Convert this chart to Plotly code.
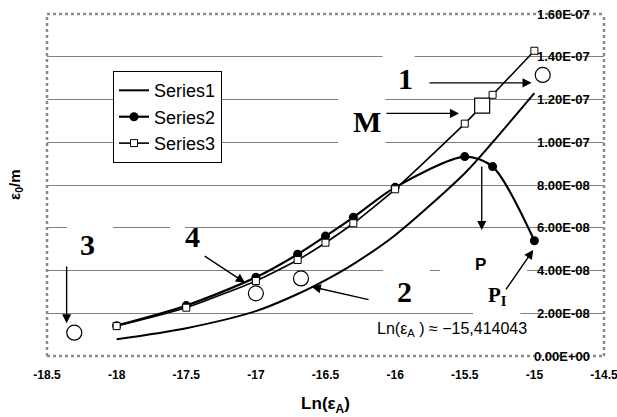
import plotly.graph_objects as go

# ---- data ----
x_vals = [-18.0, -17.5, -17.0, -16.7, -16.5, -16.3, -16.0, -15.5, -15.3, -15.0]
series1 = [7.8e-9, 1.30e-8, 2.10e-8, 2.90e-8, 3.55e-8, 4.30e-8, 5.65e-8, 8.55e-8, 1.00e-7, 1.23e-7]
series2 = [1.42e-8, 2.36e-8, 3.68e-8, 4.76e-8, 5.61e-8, 6.49e-8, 7.89e-8, 9.33e-8, 8.86e-8, 5.39e-8]
series3 = [1.40e-8, 2.26e-8, 3.51e-8, 4.49e-8, 5.30e-8, 6.21e-8, 7.80e-8, 1.087e-7, 1.222e-7, 1.428e-7]

circle_x = [-18.304, -17.0, -16.676, -14.94]
circle_y = [1.09e-8, 2.93e-8, 3.63e-8, 1.315e-7]

point_m_x = [-15.375]
point_m_y = [1.171e-7]

x_ticks = [-18.5, -18, -17.5, -17, -16.5, -16, -15.5, -15, -14.5]
x_tick_text = ["-18.5", "-18", "-17.5", "-17", "-16.5", "-16", "-15.5", "-15", "-14.5"]
y_ticks = [0, 2e-8, 4e-8, 6e-8, 8e-8, 1.0e-7, 1.2e-7, 1.4e-7, 1.6e-7]
y_tick_text = ["0.00E+00", "2.00E-08", "4.00E-08", "6.00E-08", "8.00E-08",
               "1.00E-07", "1.20E-07", "1.40E-07", "1.60E-07"]

SANS = "Liberation Sans, Arial, sans-serif"
SERIF = "Liberation Serif, Times New Roman, serif"

fig = go.Figure()

fig.add_trace(go.Scatter(x=x_vals, y=series1, name="Series1", mode="lines",
                         line=dict(color="black", width=2, shape="spline", smoothing=0.8)))
fig.add_trace(go.Scatter(x=x_vals, y=series2, name="Series2", mode="lines+markers",
                         line=dict(color="black", width=2.2, shape="spline", smoothing=0.8),
                         marker=dict(symbol="circle", size=9, color="black")))
fig.add_trace(go.Scatter(x=x_vals, y=series3, name="Series3", mode="lines+markers",
                         line=dict(color="black", width=1.6, shape="spline", smoothing=0.5),
                         marker=dict(symbol="square", size=7, color="white",
                                     line=dict(color="black", width=1))))
fig.add_trace(go.Scatter(x=point_m_x, y=point_m_y, mode="markers", showlegend=False,
                         marker=dict(symbol="square", size=15, color="white",
                                     line=dict(color="black", width=1.2))))
fig.add_trace(go.Scatter(x=circle_x, y=circle_y, mode="markers", showlegend=False,
                         marker=dict(symbol="circle", size=15, color="white",
                                     line=dict(color="black", width=1.2))))

# white gaps in gridlines (text boxes in original)
gaps = [(-16.09, -15.86, 1.4e-7), (-16.41, -16.07, 1.2e-7), (-16.41, -16.07, 1.0e-7),
        (-18.356, -18.026, 6e-8), (-17.617, -17.509, 6e-8),
        (-16.087, -15.75, 4e-8), (-15.678, -15.053, 4e-8), (-15.44, -15.10, 2e-8)]
shapes = []
for x0, x1, yv in gaps:
    shapes.append(dict(type="rect", xref="x", yref="y", x0=x0, x1=x1,
                       y0=yv - 1.5e-9, y1=yv + 1.5e-9, fillcolor="white",
                       line=dict(width=0), layer="between"))
# dotted border
for (x0, y0, x1, y1) in [(0, 1, 1, 1), (0, 0, 1, 0), (0, 0, 0, 1), (1, 0, 1, 1)]:
    shapes.append(dict(type="line", xref="paper", yref="paper", x0=x0, y0=y0, x1=x1, y1=y1,
                       line=dict(color="#8a8a8a", width=2.5, dash="dot"), layer="above"))

annotations = []
arrows = [
    (-15.02, 1.278e-7, -15.764, 1.278e-7),
    (-15.541, 1.135e-7, -16.073, 1.135e-7),
    (-18.359, 1.53e-8, -18.359, 4.26e-8),
    (-17.078, 3.43e-8, -17.378, 4.72e-8),
    (-16.599, 3.24e-8, -16.18, 2.62e-8),
    (-15.378, 5.89e-8, -15.378, 8.93e-8),
    (-15.008, 4.96e-8, -15.211, 3.05e-8),
]
for x, y, ax, ay in arrows:
    annotations.append(dict(x=x, y=y, ax=ax, ay=ay, xref="x", yref="y", axref="x", ayref="y",
                            text="", showarrow=True, arrowhead=2, arrowsize=1.3,
                            arrowwidth=1.4, arrowcolor="black", standoff=0))

big_labels = [("1", -15.929, 1.30e-7), ("M", -16.202, 1.095e-7), ("3", -18.209, 5.24e-8),
              ("4", -17.455, 5.57e-8), ("2", -15.936, 3.04e-8)]
for t, x, y in big_labels:
    annotations.append(dict(x=x, y=y, xref="x", yref="y", text="<b>%s</b>" % t, showarrow=False,
                            font=dict(family=SERIF, size=30, color="black")))
annotations.append(dict(x=-15.386, y=4.3e-8, xref="x", yref="y", text="<b>P</b>", showarrow=False,
                        font=dict(family=SANS, size=17, color="black")))
annotations.append(dict(x=-15.265, y=2.8e-8, xref="x", yref="y", text="<b>P<sub>I</sub></b>",
                        showarrow=False, font=dict(family=SERIF, size=21, color="black")))
annotations.append(dict(x=-15.59, y=1.26e-8, xref="x", yref="y",
                        text="Ln(ε<sub>A</sub> ) ≈ −15,414043", showarrow=False,
                        font=dict(family=SANS, size=16, color="black")))
annotations.append(dict(x=-0.0575, y=0.5, xref="paper", yref="paper", xanchor="center",
                        yanchor="middle", text="<b>ε<sub>0</sub>/m</b>",
                        textangle=-90, showarrow=False,
                        font=dict(family=SANS, size=15, color="black")))
# y tick labels drawn inside the plot, left of the right-hand axis
for v, t in zip(y_ticks, y_tick_text):
    annotations.append(dict(x=0.9785, y=v, xref="paper", yref="y", xanchor="right",
                            yanchor="middle", text="<b>%s</b>" % t, showarrow=False,
                            font=dict(family=SANS, size=13, color="black")))

fig.update_layout(
    width=617, height=417,
    margin=dict(l=47, r=13, t=14, b=61),
    paper_bgcolor="white", plot_bgcolor="white",
    font=dict(family=SANS, color="black"),
    showlegend=True,
    legend=dict(x=0.1185, y=0.833, xanchor="left", yanchor="top",
                bgcolor="white", bordercolor="black", borderwidth=1,
                font=dict(family=SANS, size=18, color="black"), tracegroupgap=0),
    xaxis=dict(range=[-18.5, -14.5], tickvals=x_ticks, ticktext=["<b>%s</b>" % t for t in x_tick_text],
               showgrid=False, zeroline=False, showline=False, ticks="", automargin=False,
               ticklabelstandoff=10, ticklabeloverflow="allow",
               tickfont=dict(family=SANS, size=12, color="black"),
               title=dict(text="<b>Ln(ε<sub>A</sub>)</b>", standoff=16,
                          font=dict(family=SANS, size=17, color="black"))),
    yaxis=dict(range=[0, 1.6e-7], tickvals=y_ticks, showticklabels=False, side="right",
               showgrid=True, gridcolor="#808080", gridwidth=1, automargin=False,
               zeroline=False, showline=False, ticks=""),
    shapes=shapes, annotations=annotations,
)

fig.write_html("out.html", config={"displayModeBar": False},
               post_script="document.body.style.margin='0px';")
